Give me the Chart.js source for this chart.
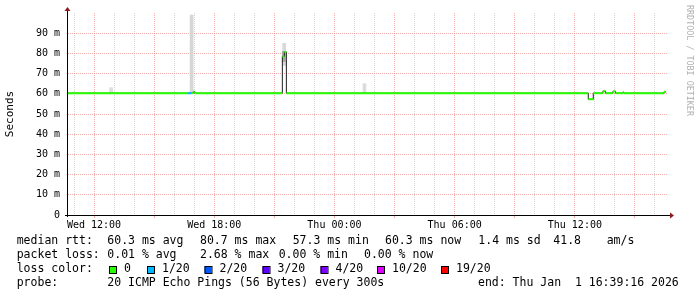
<!DOCTYPE html>
<html>
<head>
<meta charset="utf-8">
<script src="https://cdn.jsdelivr.net/npm/chart.js@4.4.1/dist/chart.umd.min.js"></script>
<style>
  html, body { margin: 0; padding: 0; background: #fff; }
  #wrap { width: 697px; height: 297px; position: relative; }
</style>
</head>
<body>
<div id="wrap"><canvas id="smokeChart"></canvas></div>
<script>
// time axis in hours since Wed 00:00
const xMin = 10.65;
const xMax = 40.65;
const xTickHours = [12, 18, 24, 30, 36];
const xTickLabels = ['Wed 12:00', 'Wed 18:00', 'Thu 00:00', 'Thu 06:00', 'Thu 12:00'];
const yTickValues = [10, 20, 30, 40, 50, 60, 70, 80, 90];
const yTickLabels = ['10 m', '20 m', '30 m', '40 m', '50 m', '60 m', '70 m', '80 m', '90 m'];

// median rtt (ms) steps: value medianVals[i] holds from medianTimes[i] to medianTimes[i+1]
const medianTimes = [10.65, 16.7, 16.87, 16.95, 17.03, 21.4, 21.5, 21.6, 36.67, 36.92, 37.4, 37.53, 37.9, 38.03, 38.4, 38.45, 40.45, 40.55];
const medianVals  = [60.3, 60.3, 60.3, 61.0, 60.3, 78.5, 80.7, 60.3, 57.3, 60.3, 61.3, 60.3, 61.2, 60.3, 60.8, 60.3, 61.0];
const medianLoss  = [0, 1, 0, 0, 0, 0, 0, 0, 0, 0, 0, 0, 0, 0, 0, 0, 0];

// smoke (spread of the 20 pings), only where it shows above the median
const smokeTimes = [12.85, 16.87, 21.49, 21.47, 25.5];
const smokeLo    = [60.3, 60.3, 74.0, 76.0, 60.3];
const smokeHi    = [63.0, 99.0, 85.0, 81.0, 65.0];
const smokeShade = ['#dcdcdc', '#d6d6d6', '#d8d8d8', '#a8a8a8', '#dcdcdc'];

// loss legend
const lossLabels = ['0', '1/20', '2/20', '3/20', '4/20', '10/20', '19/20'];
const lossColors = ['#26ff00', '#00b8ff', '#0059ff', '#5e00ff', '#7e00ff', '#dd00ff', '#ff0000'];

const statsRtt  = ['median rtt:', '60.3 ms avg', '80.7 ms max', '57.3 ms min', '60.3 ms now', '1.4 ms sd', '41.8', 'am/s'];
const statsLoss = ['packet loss:', '0.01 % avg', '2.68 % max', '0.00 % min', '0.00 % now'];
const probeText = ['probe:', '20 ICMP Echo Pings (56 Bytes) every 300s', 'end: Thu Jan  1 16:39:16 2026'];

const mono = '"DejaVu Sans Mono", "Liberation Mono", monospace';
const redGrid = 'rgba(235,120,120,0.6)';
const grayGrid = 'rgba(170,170,170,0.5)';

// build line data
const darkLine = medianVals.map((v, i) => ({x: medianTimes[i], y: v}));
darkLine.push({x: medianTimes[medianTimes.length - 1], y: medianVals[medianVals.length - 1]});

const bandLine = [];
medianVals.forEach((v, i) => {
    bandLine.push({x: medianTimes[i], y: v});
    bandLine.push({x: medianTimes[i + 1], y: v});
    bandLine.push({x: medianTimes[i + 1], y: null});
});

const smokeData = smokeTimes.map((t, i) => ({x: t, y: [smokeLo[i], smokeHi[i]]}));

// texts and arrows around the plot
const decorPlugin = {
    id: 'decor',
    afterDraw(chart) {
        const ctx = chart.ctx;
        const a = chart.chartArea;
        ctx.save();

        // axes extensions
        ctx.strokeStyle = '#000';
        ctx.lineWidth = 1;
        ctx.beginPath();
        ctx.moveTo(a.left + 0.5, a.bottom + 2);
        ctx.lineTo(a.left + 0.5, a.top - 3);
        ctx.moveTo(a.left - 2, a.bottom + 0.5);
        ctx.lineTo(a.right + 3, a.bottom + 0.5);
        ctx.stroke();

        // arrow heads
        ctx.fillStyle = '#8b1a1a';
        ctx.beginPath();
        ctx.moveTo(a.left - 2.5, a.top - 2);
        ctx.lineTo(a.left + 3.5, a.top - 2);
        ctx.lineTo(a.left + 0.5, a.top - 6);
        ctx.closePath();
        ctx.fill();
        ctx.beginPath();
        ctx.moveTo(a.right + 2, a.bottom - 2.5);
        ctx.lineTo(a.right + 2, a.bottom + 3.5);
        ctx.lineTo(a.right + 6, a.bottom + 0.5);
        ctx.closePath();
        ctx.fill();

        // watermark
        ctx.save();
        ctx.translate(685, 5);
        ctx.rotate(Math.PI / 2);
        ctx.fillStyle = '#b0b0b0';
        ctx.font = '8.4px ' + mono;
        ctx.textBaseline = 'bottom';
        ctx.fillText('RRDTOOL / TOBI OETIKER', 0, 0);
        ctx.restore();

        // legend block
        ctx.fillStyle = '#000';
        ctx.font = '11.5px ' + mono;
        ctx.textBaseline = 'middle';
        const rttX = [16.7, 107.3, 200, 292.7, 385, 478.3, 553.3, 606.7];
        statsRtt.forEach((s, i) => ctx.fillText(s, rttX[i], 241.5));
        const lossX = [16.7, 107.3, 200, 278.7, 364];
        statsLoss.forEach((s, i) => ctx.fillText(s, lossX[i], 255.5));
        ctx.fillText('loss color:', 16.7, 269.5);
        const boxX = [109, 147, 204.5, 262.5, 320.5, 377, 441];
        lossLabels.forEach((s, i) => {
            ctx.fillStyle = lossColors[i];
            ctx.fillRect(boxX[i], 266, 7, 7);
            ctx.strokeStyle = '#000';
            ctx.strokeRect(boxX[i] + 0.5, 266.5, 7, 7);
            ctx.fillStyle = '#000';
            ctx.fillText(s, boxX[i] + 15, 269.5);
        });
        const probeX = [16.7, 107.3, 478];
        probeText.forEach((s, i) => ctx.fillText(s, probeX[i], 283.5));
        ctx.restore();
    }
};

const ctx = document.getElementById('smokeChart').getContext('2d');
const smokeChart = new Chart(ctx, {
    type: 'line',
    data: {
        datasets: [{
            // loss coloured median band
            data: bandLine,
            borderWidth: 2,
            borderColor: lossColors[0],
            segment: {
                borderColor: c => lossColors[medianLoss[Math.floor(c.p0DataIndex / 3)]]
            },
            pointRadius: 0,
            spanGaps: false,
            fill: false,
            order: 0
        }, {
            // thin dark median line
            data: darkLine,
            stepped: 'before',
            borderWidth: 1,
            borderColor: '#202020',
            pointRadius: 0,
            fill: false,
            order: 1
        }, {
            type: 'bar',
            data: smokeData,
            backgroundColor: smokeShade,
            borderWidth: 0,
            barThickness: 3,
            order: 2
        }]
    },
    options: {
        responsive: true,
        maintainAspectRatio: false,
        animation: false,
        events: [],
        layout: { padding: { left: 0, top: 13, right: 29, bottom: 0 } },
        plugins: {
            legend: { display: false },
            tooltip: { enabled: false }
        },
        scales: {
            x: {
                type: 'linear',
                min: xMin,
                max: xMax,
                offset: false,
                afterBuildTicks: s => {
                    const t = [];
                    for (let h = 11; h <= 40; h++) t.push({value: h});
                    s.ticks = t;
                },
                afterFit: s => { s.height = 82; },
                ticks: {
                    autoSkip: false,
                    maxRotation: 0,
                    padding: 1,
                    color: '#000',
                    font: { family: mono, size: 10 },
                    callback: v => {
                        const i = xTickHours.indexOf(v);
                        return i >= 0 ? xTickLabels[i] : '';
                    }
                },
                grid: {
                    offset: false,
                    lineWidth: 1,
                    drawTicks: true,
                    tickLength: 3,
                    color: c => (c.tick && c.tick.value % 3 === 0) ? redGrid : grayGrid,
                    tickColor: c => (c.tick && c.tick.value % 3 === 0) ? redGrid : 'rgba(0,0,0,0)'
                },
                border: { display: true, color: '#000', dash: [1, 1] }
            },
            y: {
                min: 0,
                max: 100,
                afterBuildTicks: s => {
                    const t = [];
                    for (let v = 0; v <= 100; v += 5) t.push({value: v});
                    s.ticks = t;
                },
                afterFit: s => { s.width = 67; },
                ticks: {
                    padding: 7,
                    color: '#000',
                    font: { family: mono, size: 10 },
                    callback: v => {
                        if (v === 0) return '0';
                        const i = yTickValues.indexOf(v);
                        return i >= 0 ? yTickLabels[i] : '';
                    }
                },
                title: {
                    display: true,
                    text: 'Seconds',
                    color: '#000',
                    font: { family: mono, size: 11 },
                    padding: { top: 4, bottom: 0 }
                },
                grid: {
                    drawTicks: false,
                    lineWidth: 1,
                    color: c => {
                        const v = c.tick ? c.tick.value : 0;
                        if (v === 0 || v === 100) return 'rgba(0,0,0,0)';
                        return v % 10 === 0 ? redGrid : grayGrid;
                    }
                },
                border: { display: true, color: '#000', dash: [1, 1] }
            }
        }
    },
    plugins: [decorPlugin]
});
</script>
</body>
</html>
